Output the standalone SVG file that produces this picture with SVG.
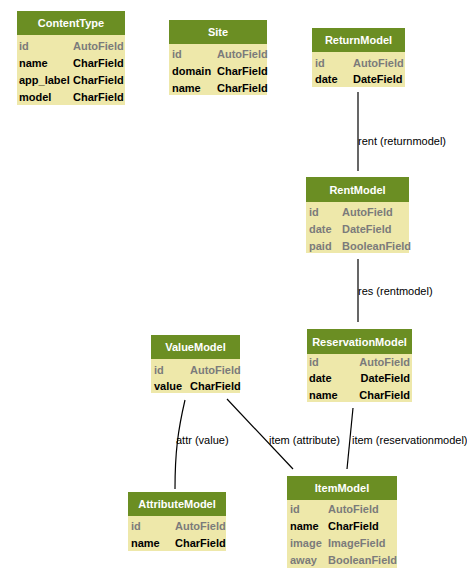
<svg xmlns="http://www.w3.org/2000/svg" width="467" height="579" viewBox="0 0 467 579">
  <style>
    .hdr { fill: #6b8e23; }
    .body { fill: #eee8aa; }
    .title { font-family: "Liberation Sans", Arial, sans-serif; font-size: 11px; font-weight: bold; fill: #ffffff; text-anchor: middle; }
    .f { font-family: "Liberation Sans", Arial, sans-serif; font-size: 11px; font-weight: bold; fill: #000000; }
    .g { fill: #7b7b7b; }
    .end { text-anchor: end; }
    .edge { fill: none; stroke: #000000; stroke-width: 1.2; }
    .lbl { font-family: "Liberation Sans", Arial, sans-serif; font-size: 11px; fill: #000000; }
  </style>
  <rect width="467" height="579" fill="#ffffff"/>

  <g id="edges">
    <path class="edge" d="M358,92 L358,171"/>
    <text class="lbl" x="358" y="145">rent (returnmodel)</text>
    <path class="edge" d="M358,259 L358,322"/>
    <text class="lbl" x="358" y="295">res (rentmodel)</text>
    <path class="edge" d="M185,400 C178,430 175,452 175,489"/>
    <text class="lbl" x="176" y="444">attr (value)</text>
    <path class="edge" d="M227,399 L293,469"/>
    <text class="lbl" x="269" y="444">item (attribute)</text>
    <path class="edge" d="M353,408 L347,469"/>
    <text class="lbl" x="352" y="444">item (reservationmodel)</text>
  </g>

  <g id="ContentType">
    <rect class="hdr" x="17" y="11" width="108" height="24"/>
    <rect class="body" x="17" y="35" width="108" height="70"/>
    <text class="title" x="71" y="27">ContentType</text>
    <text class="f g" x="19" y="50">id</text><text class="f g" x="73" y="50">AutoField</text>
    <text class="f" x="19" y="67">name</text><text class="f" x="73" y="67">CharField</text>
    <text class="f" x="19" y="84">app_label</text><text class="f" x="73" y="84">CharField</text>
    <text class="f" x="19" y="101">model</text><text class="f" x="73" y="101">CharField</text>
  </g>

  <g id="Site">
    <rect class="hdr" x="169" y="20" width="98" height="24"/>
    <rect class="body" x="169" y="44" width="98" height="51"/>
    <text class="title" x="218" y="36">Site</text>
    <text class="f g" x="172" y="58">id</text><text class="f g" x="217" y="58">AutoField</text>
    <text class="f" x="172" y="75">domain</text><text class="f" x="217" y="75">CharField</text>
    <text class="f" x="172" y="92">name</text><text class="f" x="217" y="92">CharField</text>
  </g>

  <g id="ReturnModel">
    <rect class="hdr" x="312" y="28" width="93" height="24"/>
    <rect class="body" x="312" y="52" width="93" height="35"/>
    <text class="title" x="358.5" y="44">ReturnModel</text>
    <text class="f g" x="315" y="67">id</text><text class="f g" x="353" y="67">AutoField</text>
    <text class="f" x="315" y="83">date</text><text class="f" x="353" y="83">DateField</text>
  </g>

  <g id="RentModel">
    <rect class="hdr" x="306" y="177" width="103" height="25"/>
    <rect class="body" x="306" y="202" width="103" height="51"/>
    <text class="title" x="357.5" y="194">RentModel</text>
    <text class="f g" x="309" y="216">id</text><text class="f g" x="342" y="216">AutoField</text>
    <text class="f g" x="309" y="233">date</text><text class="f g" x="342" y="233">DateField</text>
    <text class="f g" x="309" y="250">paid</text><text class="f g" x="342" y="250">BooleanField</text>
  </g>

  <g id="ReservationModel">
    <rect class="hdr" x="307" y="329" width="105" height="25"/>
    <rect class="body" x="307" y="354" width="105" height="48"/>
    <text class="title" x="359.5" y="346">ReservationModel</text>
    <text class="f g" x="309" y="366">id</text><text class="f g end" x="410" y="366">AutoField</text>
    <text class="f" x="309" y="382">date</text><text class="f end" x="410" y="382">DateField</text>
    <text class="f" x="309" y="399">name</text><text class="f end" x="410" y="399">CharField</text>
  </g>

  <g id="ValueModel">
    <rect class="hdr" x="151" y="335" width="89" height="24"/>
    <rect class="body" x="151" y="359" width="89" height="34"/>
    <text class="title" x="195.5" y="351">ValueModel</text>
    <text class="f g" x="154" y="374">id</text><text class="f g" x="190" y="374">AutoField</text>
    <text class="f" x="154" y="390">value</text><text class="f" x="190" y="390">CharField</text>
  </g>

  <g id="AttributeModel">
    <rect class="hdr" x="128" y="492" width="98" height="24"/>
    <rect class="body" x="128" y="516" width="98" height="35"/>
    <text class="title" x="177" y="508">AttributeModel</text>
    <text class="f g" x="131" y="530">id</text><text class="f g" x="175" y="530">AutoField</text>
    <text class="f" x="131" y="547">name</text><text class="f" x="175" y="547">CharField</text>
  </g>

  <g id="ItemModel">
    <rect class="hdr" x="287" y="476" width="110" height="24"/>
    <rect class="body" x="287" y="500" width="110" height="68"/>
    <text class="title" x="342" y="492">ItemModel</text>
    <text class="f g" x="290" y="513">id</text><text class="f g" x="328" y="513">AutoField</text>
    <text class="f" x="290" y="530">name</text><text class="f" x="328" y="530">CharField</text>
    <text class="f g" x="290" y="547">image</text><text class="f g" x="328" y="547">ImageField</text>
    <text class="f g" x="290" y="564">away</text><text class="f g" x="328" y="564">BooleanField</text>
  </g>
</svg>
